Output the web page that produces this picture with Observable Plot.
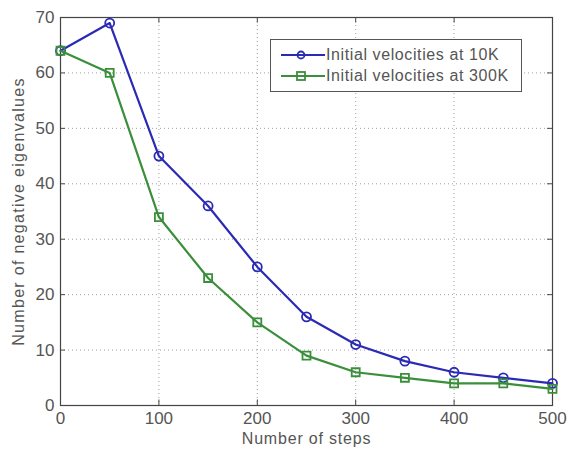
<!DOCTYPE html>
<html>
<head>
<meta charset="utf-8">
<script src="https://cdn.jsdelivr.net/npm/d3@7"></script>
<script src="https://cdn.jsdelivr.net/npm/@observablehq/plot@0.6"></script>
<style>
  html, body { margin: 0; padding: 0; background: #fff; }
  #wrap { position: relative; width: 569px; height: 450px; font-family: "Liberation Sans", Arial, sans-serif; }
  #legend { position: absolute; left: 270px; top: 39px; width: 252px; height: 53px; box-sizing: border-box;
            border: 1.5px solid #555; background: #fff; padding: 4px 4px 4px 8px; font-size: 16px; color: #555; letter-spacing: 0.6px; }
  #legend .row { display: flex; align-items: center; height: 21px; white-space: nowrap; }
  #legend svg { margin-right: 1px; }
</style>
</head>
<body>
<div id="wrap"><div id="chart"></div><div id="legend"></div></div>
<script>
const steps = [0, 50, 100, 150, 200, 250, 300, 350, 400, 450, 500];
const series10K = [64, 69, 45, 36, 25, 16, 11, 8, 6, 5, 4];
const series300K = [64, 60, 34, 23, 15, 9, 6, 5, 4, 4, 3];
const seriesNames = ["Initial velocities at 10K", "Initial velocities at 300K"];
const seriesColors = ["#2a2ab4", "#3a8f3a"];
const xTicks = [0, 100, 200, 300, 400, 500];
const yTicks = [0, 10, 20, 30, 40, 50, 60, 70];
const xTitle = "Number of steps";
const yTitle = "Number of negative eigenvalues";

const d10 = steps.map((s, i) => ({x: s, y: series10K[i]}));
const d300 = steps.map((s, i) => ({x: s, y: series300K[i]}));

const chart = Plot.plot({
  width: 569,
  height: 450,
  marginLeft: 60,
  marginRight: 17,
  marginTop: 17,
  marginBottom: 45,
  style: {fontFamily: "Liberation Sans, Arial, sans-serif", fontSize: "17px", color: "#555", background: "#fff"},
  x: {domain: [0, 500]},
  y: {domain: [0, 70]},
  marks: [
    Plot.gridX(xTicks, {stroke: "#888", strokeOpacity: 0.8, strokeDasharray: "1,3"}),
    Plot.gridY(yTicks, {stroke: "#888", strokeOpacity: 0.8, strokeDasharray: "1,3"}),
    Plot.ruleX(xTicks, {x: d => d, y1: 0, y2: 1, stroke: "#444"}),
    Plot.ruleX(xTicks, {x: d => d, y1: 69, y2: 70, stroke: "#444"}),
    Plot.ruleY(yTicks, {y: d => d, x1: 0, x2: 5, stroke: "#444"}),
    Plot.ruleY(yTicks, {y: d => d, x1: 495, x2: 500, stroke: "#444"}),
    Plot.frame({stroke: "#444", strokeWidth: 1.2}),
    Plot.axisX(xTicks, {tickSize: 0, tickPadding: 6, fontSize: 17, label: null}),
    Plot.axisY(yTicks, {tickSize: 0, tickPadding: 6, fontSize: 17, label: null}),
    Plot.text([xTitle], {text: d => d, frameAnchor: "bottom", dy: 38, fontSize: 16, fill: "#555"}),
    Plot.text([yTitle], {text: d => d, frameAnchor: "left", textAnchor: "middle", dx: -42, rotate: -90, fontSize: 16, fill: "#555"}),
    Plot.line(d10, {x: "x", y: "y", stroke: seriesColors[0], strokeWidth: 2.2}),
    Plot.dot(d10, {x: "x", y: "y", stroke: seriesColors[0], symbol: "circle", r: 4.5, strokeWidth: 1.8, fill: "none"}),
    Plot.line(d300, {x: "x", y: "y", stroke: seriesColors[1], strokeWidth: 2.2}),
    Plot.dot(d300, {x: "x", y: "y", stroke: seriesColors[1], symbol: "square", r: 4.5, strokeWidth: 1.8, fill: "none"})
  ]
});
document.getElementById("chart").appendChild(chart);
d3.select(chart).selectAll("text").filter(function() { return this.textContent === yTitle; }).attr("letter-spacing", "1.3");
d3.select(chart).selectAll("text").filter(function() { return this.textContent === xTitle; }).attr("letter-spacing", "0.8");

const legend = document.getElementById("legend");
seriesNames.forEach((name, i) => {
  const row = document.createElement("div");
  row.className = "row";
  const marker = i === 0
    ? `<circle cx="22" cy="8" r="3.5" fill="none" stroke="${seriesColors[i]}" stroke-width="1.8"/>`
    : `<rect x="18" y="4" width="8" height="8" fill="none" stroke="${seriesColors[i]}" stroke-width="1.8"/>`;
  row.innerHTML = `<svg width="46" height="16"><line x1="2" x2="46" y1="8" y2="8" stroke="${seriesColors[i]}" stroke-width="2"/>${marker}</svg><span>${name}</span>`;
  legend.appendChild(row);
});
</script>
</body>
</html>
